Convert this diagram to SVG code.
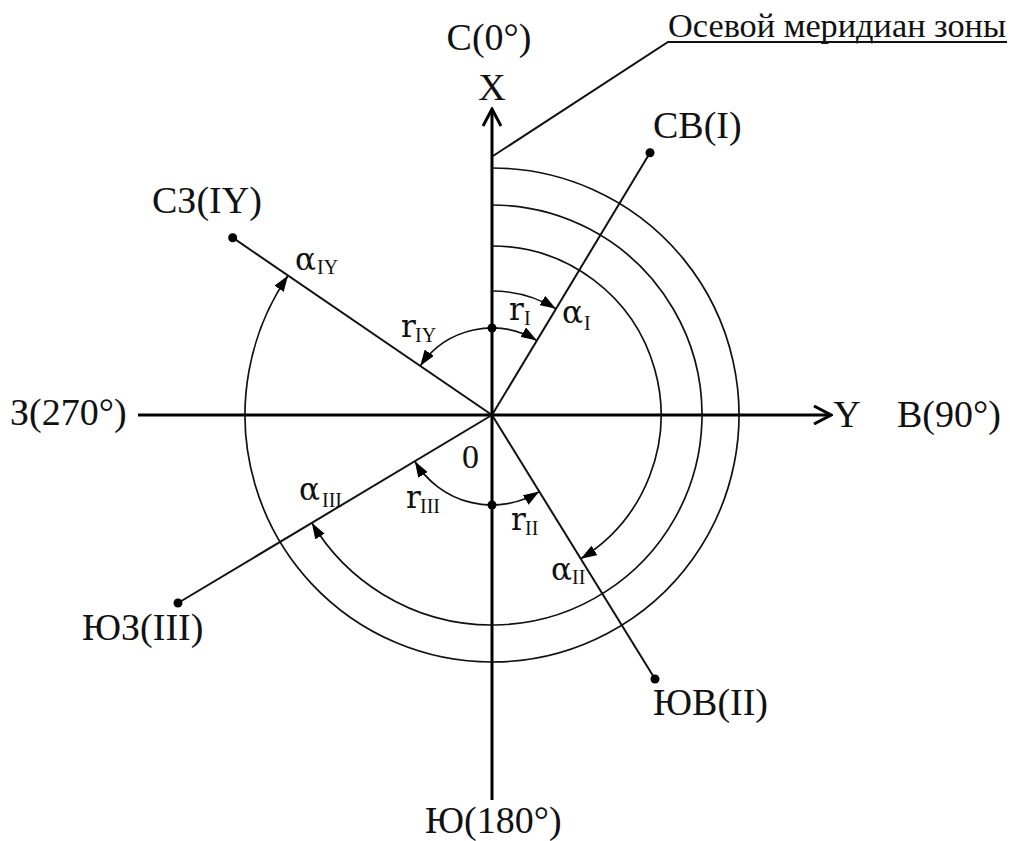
<svg xmlns="http://www.w3.org/2000/svg" width="1010" height="841" viewBox="0 0 1010 841">
<style>
.lbl{font-family:"Liberation Serif","Times New Roman",serif;font-size:38px;fill:#111}
.note{font-family:"Liberation Serif","Times New Roman",serif;font-size:33px;fill:#111}
.g{font-family:"DejaVu Serif","Liberation Serif",serif;font-size:31px;fill:#111}
.sub{font-family:"Liberation Serif","Times New Roman",serif;font-size:20px;fill:#111}
.axis{stroke:#000;stroke-width:3;fill:none}
.ray{stroke:#111;stroke-width:2;fill:none}
.arc{stroke:#111;stroke-width:1.7;fill:none}
.dot{fill:#000}
</style>
<defs>
<marker id="ah" viewBox="0 0 16 11" refX="16" refY="5.5" markerWidth="16" markerHeight="11" markerUnits="userSpaceOnUse" orient="auto-start-reverse">
<path d="M0,0 L16,5.5 L0,11 z" fill="#000"/>
</marker>
<marker id="open" viewBox="0 0 20 20" refX="18" refY="10" markerWidth="20" markerHeight="20" markerUnits="userSpaceOnUse" orient="auto">
<path d="M1,1 L18,10 L1,19" fill="none" stroke="#000" stroke-width="3"/>
</marker>
</defs>
<g id="axes">
<line class="axis" x1="492" y1="800" x2="492" y2="109" marker-end="url(#open)"/>
<line class="axis" x1="138" y1="415" x2="831" y2="415" marker-end="url(#open)"/>
</g>
<g id="connectors">
<line class="ray" x1="492" y1="415" x2="650" y2="152.7"/>
<line class="ray" x1="492" y1="415" x2="232.7" y2="237.7"/>
<line class="ray" x1="492" y1="415" x2="655" y2="679"/>
<line class="ray" x1="492" y1="415" x2="178" y2="603"/>
<polyline class="ray" points="493,156 668,42 1007,42" stroke-width="1.7"/>
<path class="arc" d="M492,246 A169,169 0 0 1 580.8,558.8" marker-end="url(#ah)"/>
<path class="arc" d="M492,205 A210,210 0 1 1 311.8,522.8" marker-end="url(#ah)"/>
<path class="arc" d="M492,168 A247,247 0 1 1 288.1,275.6" marker-end="url(#ah)"/>
<path class="arc" d="M420.2,365.9 A87,87 0 0 1 536.9,340.5" marker-start="url(#ah)" marker-end="url(#ah)"/>
<path class="arc" d="M492,291 A124,124 0 0 1 556,308.8" marker-end="url(#ah)"/>
<path class="arc" d="M539.3,491.6 A90,90 0 0 1 414.8,461.2" marker-start="url(#ah)" marker-end="url(#ah)"/>
</g>
<g id="points">
<circle class="dot" cx="650" cy="152.7" r="4.5"/>
<circle class="dot" cx="232.7" cy="237.7" r="4.5"/>
<circle class="dot" cx="655" cy="679" r="4.5"/>
<circle class="dot" cx="178" cy="603" r="4.5"/>
<circle class="dot" cx="492" cy="328" r="4.5"/>
<circle class="dot" cx="492" cy="505" r="4.5"/>
</g>
<g id="n-north"><text class="lbl" x="489" y="50" text-anchor="middle">С(0°)</text></g>
<g id="n-x"><text class="lbl" x="492" y="100" text-anchor="middle">X</text></g>
<g id="n-meridian"><text class="note" x="668" y="37" textLength="338" lengthAdjust="spacingAndGlyphs">Осевой меридиан зоны</text></g>
<g id="n-ne"><text class="lbl" x="653" y="138">СВ(I)</text></g>
<g id="n-nw"><text class="lbl" x="152" y="213">СЗ(IY)</text></g>
<g id="n-west"><text class="lbl" x="10" y="425">З(270°)</text></g>
<g id="n-y"><text class="lbl" x="847" y="427" text-anchor="middle">Y</text></g>
<g id="n-east"><text class="lbl" x="897" y="427">В(90°)</text></g>
<g id="n-sw"><text class="lbl" x="82" y="640">ЮЗ(III)</text></g>
<g id="n-se"><text class="lbl" x="653" y="715">ЮВ(II)</text></g>
<g id="n-south"><text class="lbl" x="425" y="833">Ю(180°)</text></g>
<g id="n-origin"><text class="lbl" x="462" y="468" style="font-size:34px">0</text></g>
<g id="l-a4"><text class="g" x="295" y="270">α</text><text class="sub" x="317" y="274">IY</text></g>
<g id="l-r4"><text class="g" x="401" y="337">r</text><text class="sub" x="415" y="342">IY</text></g>
<g id="l-r1"><text class="g" x="509" y="320">r</text><text class="sub" x="524" y="325">I</text></g>
<g id="l-a1"><text class="g" x="562" y="323">α</text><text class="sub" x="584" y="330">I</text></g>
<g id="l-a3"><text class="g" x="299" y="500">α</text><text class="sub" x="322" y="507">III</text></g>
<g id="l-r3"><text class="g" x="406" y="508">r</text><text class="sub" x="420" y="513">III</text></g>
<g id="l-r2"><text class="g" x="511" y="530">r</text><text class="sub" x="525" y="535">II</text></g>
<g id="l-a2"><text class="g" x="551" y="580">α</text><text class="sub" x="572" y="584">II</text></g>
</svg>
